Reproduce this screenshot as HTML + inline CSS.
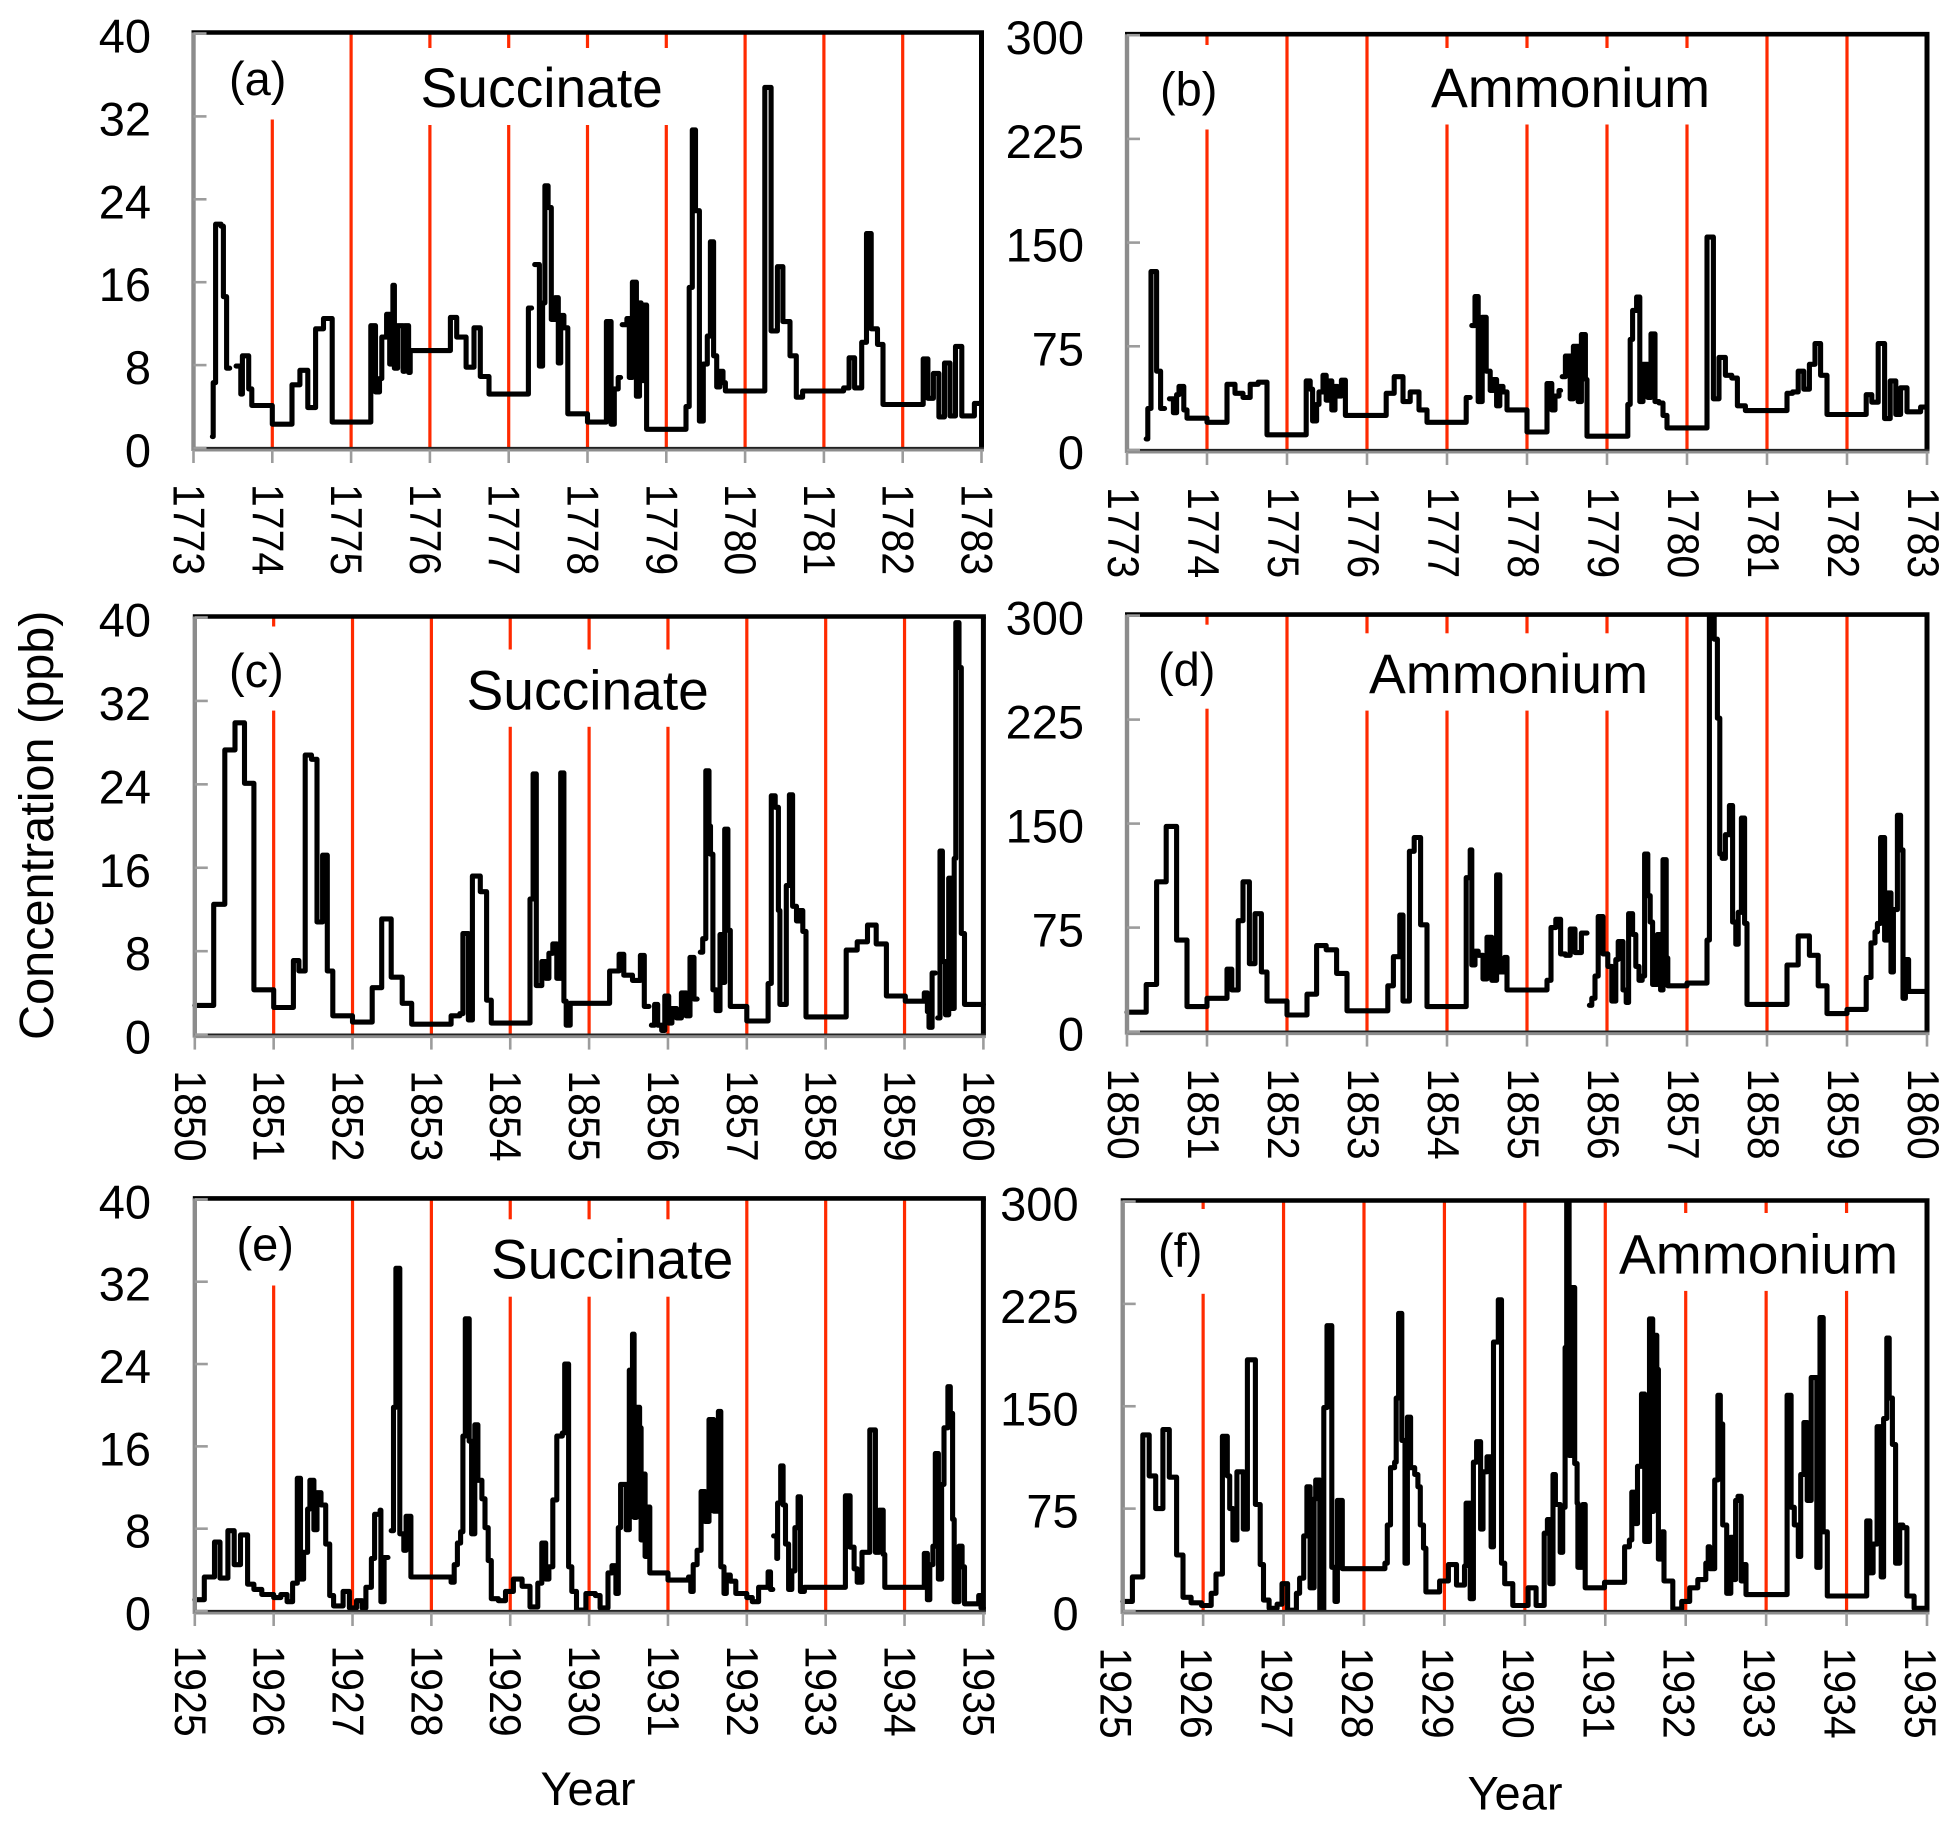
<!DOCTYPE html>
<html lang="en">
<head>
<meta charset="utf-8">
<title>Succinate and ammonium concentration</title>
<style>
html,body{margin:0;padding:0;background:#fff;width:1957px;height:1828px;overflow:hidden}
svg{display:block;font-family:"Liberation Sans",sans-serif;fill:#000}
</style>
</head>
<body>
<svg id="chart" width="1957" height="1828" viewBox="0 0 1957 1828" xmlns="http://www.w3.org/2000/svg">
<rect x="0" y="0" width="1957" height="1828" fill="#fff"/>
<g id="panels"></g>
<g id="labels">
<text x="229" y="95" font-size="47">(a)</text>
<text x="420.5" y="107" font-size="55.2">Succinate</text>
<text x="1160" y="105.4" font-size="47">(b)</text>
<text x="1431" y="107" font-size="55.2">Ammonium</text>
<text x="229" y="687" font-size="47">(c)</text>
<text x="466.5" y="709.4" font-size="55.2">Succinate</text>
<text x="1158" y="686" font-size="47">(d)</text>
<text x="1369" y="693" font-size="55.2">Ammonium</text>
<text x="236.5" y="1260.7" font-size="47">(e)</text>
<text x="491" y="1278.5" font-size="55.2">Succinate</text>
<text x="1158" y="1267" font-size="47">(f)</text>
<text x="1619" y="1273.5" font-size="55.2">Ammonium</text>
<text transform="translate(53,1040) rotate(-90)" font-size="48.6">Concentration (ppb)</text>
<text x="588" y="1805" font-size="47" text-anchor="middle">Year</text>
<text x="1515" y="1809.5" font-size="47" text-anchor="middle">Year</text>
</g>
</svg>
<script>
// Tick labels
const succinateTicks = [0, 8, 16, 24, 32, 40];
const ammoniumTicks = [0, 75, 150, 225, 300];
const years1773 = [1773, 1774, 1775, 1776, 1777, 1778, 1779, 1780, 1781, 1782, 1783];
const years1850 = [1850, 1851, 1852, 1853, 1854, 1855, 1856, 1857, 1858, 1859, 1860];
const years1925 = [1925, 1926, 1927, 1928, 1929, 1930, 1931, 1932, 1933, 1934, 1935];

// Step series: time = years since the first tick; value in ppb (null = gap in the record / end of line)
const aTime = [0.24,0.25,0.28,0.35,0.38,0.42,0.46,0.54,0.60,0.62,0.70,0.74,1.0,1.25,1.35,1.45,1.55,1.65,1.76,2.25,2.31,2.36,2.39,2.45,2.49,2.53,2.55,2.59,2.66,2.68,2.73,2.75,3.26,3.34,3.46,3.56,3.64,3.75,4.25,4.29,4.33,4.39,4.43,4.46,4.50,4.54,4.59,4.63,4.66,4.70,4.75,5.0,5.24,5.30,5.34,5.39,5.42,5.44,5.50,5.53,5.57,5.62,5.66,5.68,5.72,5.75,6.25,6.29,6.33,6.37,6.42,6.47,6.52,6.56,6.60,6.64,6.68,6.72,6.75,7.25,7.33,7.41,7.48,7.57,7.65,7.73,8.25,8.32,8.39,8.48,8.54,8.60,8.68,8.75,9.26,9.32,9.39,9.46,9.53,9.60,9.67,9.75,9.91,9.97];
const aValue = [1.1,6.3,21.6,21.4,14.6,7.7,null,7.9,5.2,8.9,5.7,4.1,2.3,6.1,7.5,3.9,11.5,12.5,2.5,11.8,5.4,6.7,10.7,12.9,8.1,15.7,7.7,11.8,7.4,11.8,7.3,9.4,12.6,10.7,7.8,11.6,6.9,5.2,13.5,null,17.7,7.9,14,25.3,23.2,12.4,14.5,8.2,12.8,11.6,3.3,2.5,12.2,2.3,5.7,6.8,null,11.9,12.5,6.8,16,5,14,6.5,13.8,1.8,4,15.5,30.7,22.9,2.6,8.1,10.8,19.9,8.9,5.9,7.4,6.3,5.5,34.8,11.3,17.5,12.2,8.9,4.9,5.5,5.8,8.7,5.8,10.2,20.7,11.5,10,4.2,8.6,4.8,7.2,3,8.2,3.1,9.8,3.1,4.3,null];

const bTime = [0.24,0.26,0.30,0.37,0.42,0.47,0.53,0.58,0.62,0.65,0.71,0.75,1.0,1.25,1.35,1.45,1.54,1.64,1.75,2.24,2.29,2.32,2.37,2.40,2.45,2.49,2.53,2.56,2.60,2.63,2.68,2.73,3.24,3.34,3.45,3.54,3.65,3.75,4.24,4.29,4.31,4.35,4.39,4.44,4.49,4.54,4.58,4.62,4.66,4.70,4.75,5.0,5.25,5.31,5.35,5.40,5.42,5.44,5.48,5.54,5.58,5.64,5.68,5.73,5.75,6.26,6.29,6.32,6.37,6.41,6.45,6.51,6.55,6.60,6.65,6.70,6.75,7.25,7.33,7.40,7.48,7.56,7.63,7.73,8.25,8.32,8.39,8.46,8.53,8.60,8.67,8.75,9.24,9.31,9.39,9.47,9.54,9.61,9.67,9.75,9.92,9.97];
const bValue = [8,30,129,57,30,null,37,27,40,46,29,23,20,47.5,41,38,47.5,49,11,50,44,21,33,42,54,36,50,29,46,39,50.5,25,41,53,35,42,29,20,38,null,90,111,35,96,57,43,51,32,46,42,29,13,48,29,39,43,null,53,68,37,75,35,83.5,51,10,33,80,101,110.6,35,62,38,84,35,34,25,16,154,37,67,54,52,32,28.5,41,42,57,44,62,77,54,25.7,40,34.6,77,22.7,50,25.7,45,27.6,31,null];

const cTime = [0,0.24,0.38,0.51,0.63,0.75,1.0,1.25,1.32,1.40,1.48,1.55,1.62,1.68,1.75,2.0,2.25,2.37,2.49,2.63,2.75,3.25,3.36,3.40,3.47,3.52,3.62,3.70,3.76,4.25,4.29,4.33,4.40,4.45,4.49,4.54,4.59,4.64,4.68,4.71,4.76,5.26,5.38,5.44,5.55,5.65,5.70,5.76,5.79,5.83,5.87,5.92,5.96,6.01,6.05,6.11,6.17,6.23,6.28,6.33,6.37,6.41,6.44,6.48,6.52,6.54,6.57,6.61,6.66,6.68,6.72,6.76,6.79,7.0,7.27,7.31,7.36,7.40,7.42,7.50,7.54,7.58,7.63,7.67,7.71,7.75,8.26,8.40,8.53,8.64,8.77,9.01,9.25,9.29,9.31,9.35,9.39,9.42,9.45,9.48,9.52,9.56,9.60,9.63,9.65,9.69,9.72,9.76,10];
const cValue = [2.8,12.5,27.3,29.9,24.1,4.3,2.6,7.1,6.1,26.8,26.4,10.8,17.2,6.1,1.8,1.2,4.5,11.1,5.5,3,1,1.8,2,9.7,1.4,15.2,13.7,3.3,1.1,13,25,4.7,7,5.4,7.8,8.7,5.4,25.1,3.2,0.9,3,6.1,7.7,5.7,5.2,7.6,2.7,null,0.9,2.9,0.9,0.4,3.7,1.1,2.5,1.6,4,1.8,7.4,3.4,null,7.9,9.2,25.3,20,17.3,4.3,2.3,9.6,5,19.7,10,2.7,1.3,4.9,22.9,21.8,11.9,2.9,14.3,23,12.3,10.9,11.9,9.9,1.7,8.1,8.9,10.5,8.7,3.7,3.2,4,2.2,0.7,5.9,null,1.6,17.6,7,1.9,15,2.5,16.9,39.5,35.2,9.7,2.9,null];

const dTime = [0,0.24,0.37,0.49,0.62,0.75,1.0,1.25,1.31,1.39,1.45,1.53,1.60,1.68,1.75,2.0,2.25,2.37,2.49,2.62,2.75,3.26,3.33,3.41,3.45,3.53,3.59,3.67,3.75,4.24,4.29,4.31,4.35,4.39,4.45,4.50,4.56,4.62,4.66,4.72,4.75,5.25,5.30,5.36,5.42,5.48,5.54,5.60,5.68,5.75,5.78,5.81,5.85,5.89,5.95,6.01,6.06,6.11,6.14,6.20,6.24,6.27,6.32,6.36,6.40,6.44,6.47,6.51,6.54,6.57,6.63,6.67,6.70,6.74,6.76,7.0,7.25,7.28,7.34,7.38,7.41,7.44,7.48,7.53,7.57,7.61,7.64,7.68,7.72,7.75,8.25,8.39,8.53,8.64,8.75,9.0,9.24,9.30,9.35,9.38,9.42,9.47,9.51,9.55,9.58,9.63,9.67,9.70,9.73,9.77,10];
const dValue = [14,34,108,148,66,18,24,45,30,80,108,49,85,43,22,12,27,62,59,42,15,33,54,84,22,130,140,77,18,111,131,48,58,55,38,68,37,113,43,53.5,30,37,75,81,56,55,74,57,71,null,19,24,40,83,56,47,22,52,65,30,21,85,70,47,37,40,128,98,79,34,70,30,124,53,33,35,66,300,283,226,128,125,142,163,79,63,86,154,78,19.6,48,69,55,33,13,16,39,64,72,78,140,66,100,43,88,156,131,24,52,29,null];

const eTime = [0,0.12,0.25,0.32,0.42,0.50,0.58,0.67,0.75,0.85,1.0,1.09,1.17,1.24,1.30,1.34,1.38,1.43,1.46,1.51,1.55,1.60,1.66,1.71,1.76,1.88,1.96,2.05,2.12,2.17,2.24,2.28,2.35,2.36,2.40,2.45,2.49,2.52,2.55,2.60,2.65,2.68,2.74,3.25,3.29,3.33,3.37,3.40,3.43,3.48,3.51,3.55,3.59,3.64,3.68,3.72,3.76,3.85,3.94,4.04,4.15,4.25,4.35,4.40,4.45,4.49,4.54,4.59,4.66,4.69,4.74,4.78,4.84,4.96,5.08,5.14,5.24,5.29,5.34,5.37,5.40,5.47,5.51,5.55,5.57,5.60,5.64,5.66,5.68,5.71,5.74,5.77,6.0,6.26,6.29,6.32,6.37,6.42,6.47,6.52,6.58,6.64,6.67,6.71,6.74,6.79,6.86,7.0,7.07,7.15,7.27,7.30,7.33,7.34,7.38,7.39,7.43,7.46,7.49,7.53,7.57,7.61,7.65,7.68,7.73,8.25,8.31,8.36,8.40,8.46,8.56,8.63,8.68,8.73,8.75,9.25,9.29,9.32,9.36,9.39,9.43,9.47,9.50,9.55,9.58,9.61,9.63,9.69,9.73,9.76,9.94,9.97,10];
const eValue = [1.1,3.3,6.7,3.2,7.8,4.5,7.4,2.6,2.1,1.6,1.3,1.6,0.9,2.7,12.9,3.1,5.7,9.9,12.7,7.9,11.5,10.3,6.5,1.5,0.5,1.9,0.3,1,0.3,2.3,5.1,9.4,9.8,0.9,5.2,null,7.8,19.8,33.3,7.5,5.9,9.2,3.3,2.8,4.5,6.6,7.7,17,28.4,16.5,7.5,18.1,12.7,10.9,8.1,4.9,1.2,1,1.9,3.1,2.4,0.4,2.7,6.6,3.1,4.3,10.8,17,17.3,24,4.3,1.9,0.1,1.7,1.5,0.3,3.7,4.4,1.7,8.1,12.3,7.9,23.4,26.9,9.1,19.8,17.8,6.9,13.3,5.3,10.1,3.7,3,3.3,1.9,4.5,5.9,11.6,8.7,18.6,9.7,19.4,4.3,1.7,3.5,2.9,1.7,1.3,0.9,2.3,3.8,2.1,null,7.3,5.1,10.5,14.1,10.3,6.5,2.1,3.9,8.1,11.1,1.9,2.3,11.2,6.2,4.1,2.8,5.7,17.6,5.7,9.8,5.5,2.3,5.6,1.1,4.5,6.3,15.3,3.1,12.3,17.8,21.8,19.2,8.9,0.9,6.3,4.3,0.7,1.5,0.3,null];

const fTime = [0,0.12,0.25,0.33,0.41,0.50,0.58,0.67,0.75,0.85,0.98,1.10,1.16,1.24,1.30,1.33,1.37,1.42,1.50,1.55,1.65,1.71,1.75,1.82,1.92,1.98,2.05,2.16,2.20,2.25,2.29,2.33,2.38,2.40,2.45,2.50,2.54,2.60,2.64,2.67,2.73,3.26,3.29,3.33,3.38,3.40,3.43,3.47,3.51,3.54,3.58,3.63,3.67,3.70,3.74,3.77,3.94,4.05,4.15,4.25,4.27,4.32,4.36,4.40,4.45,4.48,4.53,4.58,4.61,4.67,4.71,4.75,4.85,5.04,5.14,5.24,5.28,5.31,5.35,5.38,5.44,5.47,5.50,5.52,5.55,5.58,5.62,5.65,5.66,5.72,5.75,5.99,6.24,6.30,6.33,6.37,6.40,6.45,6.49,6.55,6.59,6.60,6.64,6.66,6.71,6.73,6.84,6.95,7.05,7.15,7.25,7.28,7.30,7.36,7.40,7.43,7.46,7.51,7.56,7.60,7.62,7.65,7.69,7.73,7.75,8.26,8.31,8.35,8.40,8.43,8.47,8.51,8.56,8.63,8.67,8.71,8.76,9.25,9.29,9.33,9.38,9.43,9.46,9.50,9.53,9.57,9.61,9.66,9.70,9.75,9.84,9.98];
const fValue = [7,25,129,99,75,133,98,41,10,6,4,13,27,128,99,75,52,102,60,184,78,34,8,2,5,20,0.6,13,24,55,91,17,82,96,0,149,209,32,7,81,31,35,63,105,109,156,218,125,35,142,105,100,91,63,46,14,22,34,19,33,79,9,109,124,60,102,113,47,197,228,35,20,4,17,4,57,67,20,100,78,43,76,193,300,114,237,108,79,32,78,17,21,47,52,87,64,106,159,51,214,73,202,177,38,58,22,1.5,7,17,23,35,47,31,96,158,137,63,13,54,23,81,84,22,34,12,158,76,63,40,100,138,81,171,32,215,58,11,66,28,49,135,25,141,200,156,122,35,63,61,11,2,null];

// Which year lines have white label boxes over them: [first year index, last year index]
const panelABoxYears = [[1, 1], [3, 6]];
const panelBBoxYears = [[1, 1], [4, 7]];
const panelCBoxYears = [[1, 1], [4, 6]];
const panelDBoxYears = [[1, 1], [3, 6]];
const panelEBoxYears = [[1, 1], [4, 6]];
const panelFBoxYears = [[1, 1], [7, 9]];

const panels = [
  {id:'a', L:193.5, R:981.5,T:33.5,  B:448,    yMax:40,  yTicks:succinateTicks, years:years1773, time:aTime, value:aValue, labelDx:-20, labelTop:484,    boxYears:panelABoxYears, boxSpans:[[34,119.5],[48,125]],     tickRight:151},
  {id:'b', L:1127,  R:1927, T:35.2,  B:450,    yMax:300, yTicks:ammoniumTicks,  years:years1773, time:bTime, value:bValue, labelDx:-19, labelTop:487,    boxYears:panelBBoxYears, boxSpans:[[45,129.5],[48,124.5]],   tickRight:1084},
  {id:'c', L:194.8, R:983.4,T:617.5, B:1034.6, yMax:40,  yTicks:succinateTicks, years:years1850, time:cTime, value:cValue, labelDx:-20, labelTop:1070.4, boxYears:panelCBoxYears, boxSpans:[[626.5,710.6],[649.5,726.8]], tickRight:151},
  {id:'d', L:1127,  R:1927, T:615.6, B:1031.6, yMax:300, yTicks:ammoniumTicks,  years:years1850, time:dTime, value:dValue, labelDx:-19, labelTop:1068.5, boxYears:panelDBoxYears, boxSpans:[[624.7,708.7],[633.3,710.6]], tickRight:1084},
  {id:'e', L:194.8, R:983.4,T:1199.4,B:1611,   yMax:40,  yTicks:succinateTicks, years:years1925, time:eTime, value:eValue, labelDx:-20, labelTop:1645.5, boxYears:panelEBoxYears, boxSpans:[[1200,1285.5],[1219.3,1296.7]], tickRight:151},
  {id:'f', L:1122.7,R:1927, T:1201.5,B:1611,   yMax:300, yTicks:ammoniumTicks,  years:years1925, time:fTime, value:fValue, labelDx:-22, labelTop:1647.5, boxYears:panelFBoxYears, boxSpans:[[1209,1293.8],[1213,1290.9]], tickRight:1078.6}
];

const NS = 'http://www.w3.org/2000/svg';
const root = document.getElementById('panels');

function make(parent, tag, attrs, text) {
  const el = document.createElementNS(NS, tag);
  for (const k in attrs) el.setAttribute(k, attrs[k]);
  if (text !== undefined) el.textContent = text;
  parent.appendChild(el);
  return el;
}

function stepPath(times, values, xOf, yOf) {
  let d = '';
  let pen = false;
  for (let i = 0; i < times.length; i++) {
    const v = values[i];
    if (v === null) {
      if (pen) d += 'H' + xOf(times[i]).toFixed(1);
      pen = false;
      continue;
    }
    if (!pen) {
      d += 'M' + xOf(times[i]).toFixed(1) + ' ' + yOf(v).toFixed(1);
      pen = true;
    } else {
      d += 'H' + xOf(times[i]).toFixed(1) + 'V' + yOf(v).toFixed(1);
    }
  }
  return d;
}

panels.forEach(function (p) {
  const span = p.years[p.years.length - 1] - p.years[0];
  const xOf = function (t) { return p.L + (t / span) * (p.R - p.L); };
  const yOf = function (v) { return p.B - (v / p.yMax) * (p.B - p.T); };

  const g = make(root, 'g', {});
  
  

  // red year lines
  for (let i = 1; i < p.years.length - 1; i++) {
    const line = make(g, 'line', {x1: xOf(i), x2: xOf(i), y1: p.T, y2: p.B, stroke: '#ff2a00', 'stroke-width': 3.2});
    
    
  }

  // white boxes behind the panel letter and title
  p.boxYears.forEach(function (range, b) {
    const box = make(g, 'rect', {
      x: xOf(range[0]) - 8, width: xOf(range[1]) - xOf(range[0]) + 16,
      y: p.boxSpans[b][0], height: p.boxSpans[b][1] - p.boxSpans[b][0], fill: '#fff'
    });
    
    
  });

  // series
  const series = make(g, 'path', {
    d: stepPath(p.time, p.value, xOf, yOf), fill: 'none', stroke: '#000',
    'stroke-width': 5.1, 'stroke-linejoin': 'round', 'stroke-linecap': 'round'
  });
  
  

  // frame
  const top = make(g, 'line', {x1: p.L - 2, x2: p.R + 2.5, y1: p.T - 1, y2: p.T - 1, stroke: '#000', 'stroke-width': 4.6});
  
  
  const right = make(g, 'line', {x1: p.R, x2: p.R, y1: p.T - 1, y2: p.B + 0.5, stroke: '#000', 'stroke-width': 5});
  
  
  const left = make(g, 'line', {x1: p.L, x2: p.L, y1: p.T - 1, y2: p.B + 3, stroke: '#8c8c8c', 'stroke-width': 4.4});
  
  
  const bottom = make(g, 'line', {x1: p.L, x2: p.R + 2.5, y1: p.B + 2, y2: p.B + 2, stroke: '#8c8c8c', 'stroke-width': 3});
  
  
  const bottomEdge = make(g, 'line', {x1: p.L, x2: p.R + 2.5, y1: p.B - 0.2, y2: p.B - 0.2, stroke: '#222', 'stroke-width': 1.8});
  
  

  // y ticks and labels
  p.yTicks.forEach(function (v) {
    const y = yOf(v);
    const tick = make(g, 'line', {x1: p.L, x2: p.L + 13, y1: y, y2: y, stroke: '#9c9c9c', 'stroke-width': 2.6});
    
    
    const label = make(g, 'text', {x: p.tickRight, y: y + 19, 'font-size': 47, 'text-anchor': 'end'}, String(v));
    
    
  });

  // x ticks and labels
  p.years.forEach(function (yr, i) {
    const x = xOf(i);
    const tick = make(g, 'line', {x1: x, x2: x, y1: p.B + 2, y2: p.B + 15, stroke: '#9c9c9c', 'stroke-width': 2.6});
    
    
    const label = make(g, 'text', {
      transform: 'translate(' + (x + p.labelDx) + ' ' + p.labelTop + ') rotate(90) scale(1 1.08)',
      'font-size': 41
    }, String(yr));
    
    
  });
});
</script>
</body>
</html>
